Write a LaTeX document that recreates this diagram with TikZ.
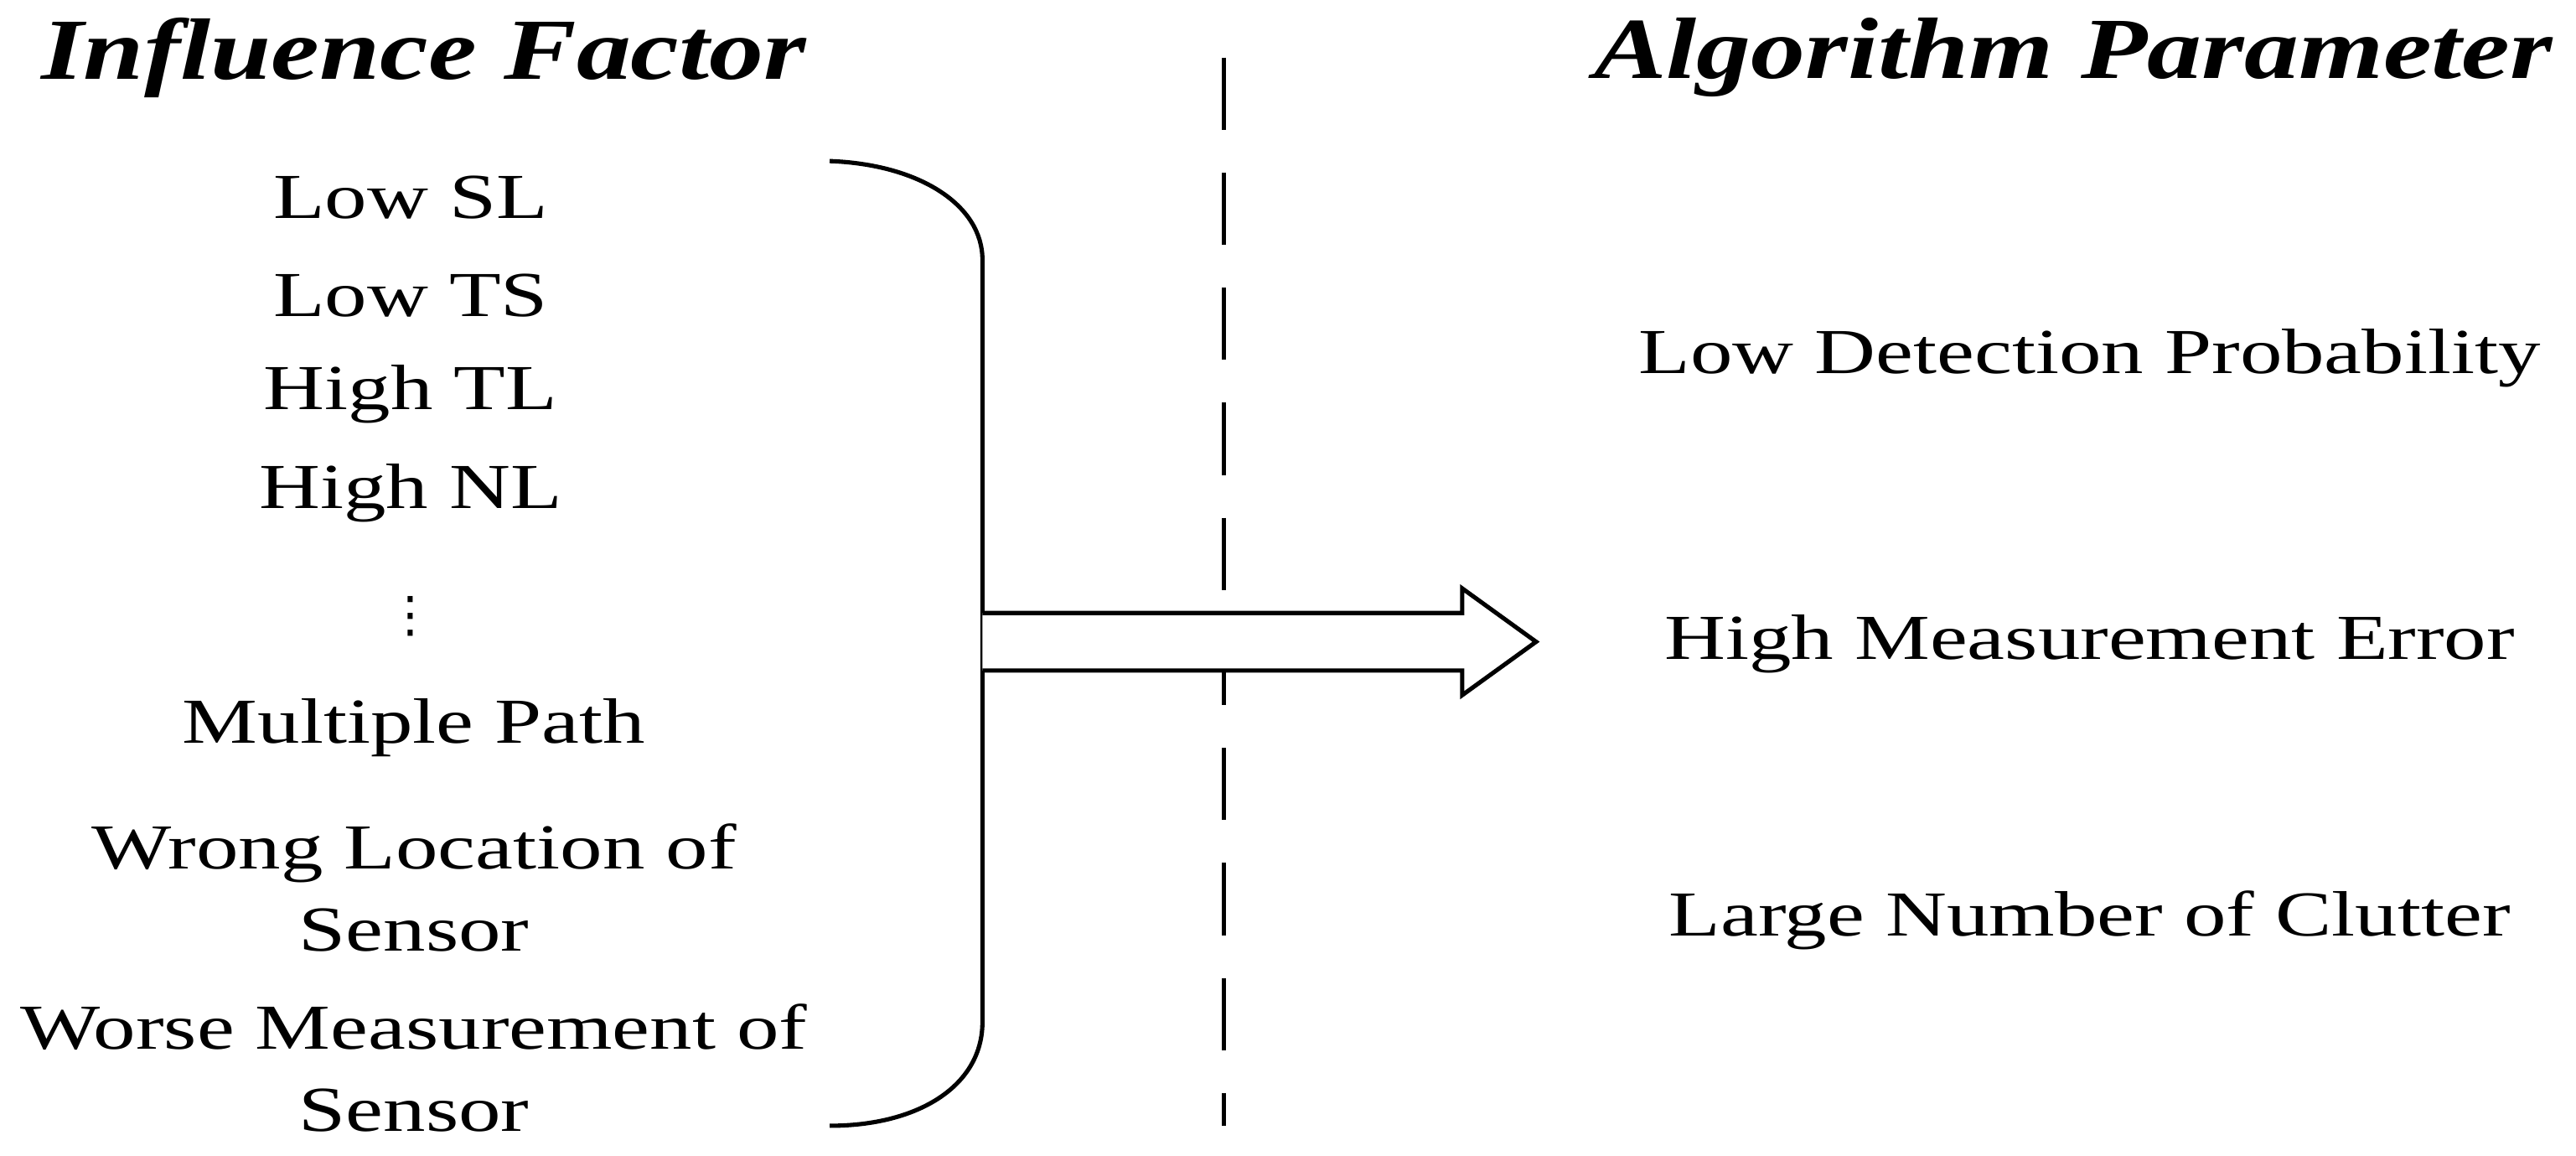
\documentclass[tikz,border=0pt]{standalone}
\usepackage{fontspec}
\setmainfont{Liberation Serif}
\newfontfamily\widefont[FakeStretch=1.32]{Liberation Serif}
\newfontfamily\dejafont{DejaVu Sans}
\newfontfamily\widetitle[FakeStretch=1.25,BoldItalicFont={* Bold Italic}]{Liberation Serif}
\begin{document}
\begin{tikzpicture}[x=0.5pt,y=-0.5pt,
  item/.style={font=\widefont\fontsize{19.5}{25}\selectfont, align=center, inner sep=0pt},
  title/.style={font=\widetitle\fontsize{26.5}{28}\selectfont\bfseries\itshape, inner sep=0pt},
  ln/.style={line width=1.3pt}]
\useasboundingbox (0,0) rectangle (1568,703);
\node[title] (t1) at (258,35) {Influence Factor};
\node[title] (t2) at (1262,35) {Algorithm Parameter};
\draw[ln, dash pattern=on 22pt off 13pt] (745,35) -- (745,685);
\node[item] (a1) at (250,120) {Low SL};
\node[item] (a2) at (250,180) {Low TS};
\node[item] (a3) at (250,240) {High TL};
\node[item] (a4) at (250,300) {High NL};
\node[item, font=\dejafont\fontsize{15}{15}\selectfont] (a5) at (250,375) {⋮};
\node[item] (a6) at (252,443) {Multiple Path};
\node[item] (a7) at (252,540) {Wrong Location of\\Sensor};
\node[item] (a8) at (252,650) {Worse Measurement of\\Sensor};
\draw[ln] (505,98) .. controls (560,100) and (598,125) .. (598,158) -- (598,622) .. controls (598,660) and (560,685) .. (505,685);
\draw[ln, fill=white] (598,373) -- (890,373) -- (890,358) -- (935,390.5) -- (890,423) -- (890,408) -- (598,408);
\node[item] (b1) at (1272,218) {Low Detection Probability};
\node[item] (b2) at (1272,392) {High Measurement Error};
\node[item] (b3) at (1272,560) {Large Number of Clutter};
\end{tikzpicture}
\end{document}
